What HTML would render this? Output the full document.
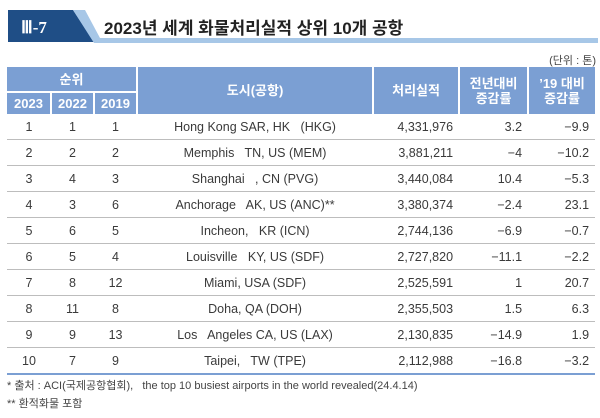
<!DOCTYPE html>
<html><head><meta charset="utf-8"><style>
body{margin:0;width:600px;height:418px;background:#fff;font-family:"Liberation Sans","Noto Sans CJK KR",sans-serif;position:relative;overflow:hidden;color:#3a3a3a}
.abs{position:absolute}
table{position:absolute;left:7px;top:67px;width:588px;border-collapse:collapse;table-layout:fixed;font-size:12.5px}
th{background:#7b9fd3;color:#fff;font-weight:bold;border-left:2px solid #fff;font-size:13px;padding:0;line-height:15px}
th:first-child{border-left:none}
td{height:25px;border-bottom:1px solid #bdbdbd;padding:0;text-align:center}
tr.last td{border-bottom:2px solid #7b9fd3}
td.r{text-align:right;padding-right:6px}
</style></head><body>
<svg class="abs" style="left:0;top:0" width="600" height="46">
<polygon points="8,10 73,10 94,42 8,42" fill="#1f4e86"/>
<polygon points="73,10 85,10 100,38 598,38 598,43 94,43" fill="#a7c7e7"/>
<text x="21" y="33" fill="#fff" font-family="Liberation Serif,serif" font-size="17" font-weight="bold">Ⅲ-7</text>
</svg>
<div class="abs" style="left:104px;top:14px;font-size:17px;font-weight:bold;color:#222">2023년 세계 화물처리실적 상위 10개 공항</div>
<div class="abs" style="right:4px;top:52px;font-size:11px;color:#444">(단위 : 톤)</div>
<table>
<colgroup><col style="width:44px"><col style="width:43px"><col style="width:43px"><col style="width:236px"><col style="width:86px"><col style="width:69px"><col style="width:67px"></colgroup>
<tr style="height:25px"><th colspan="3" style="border-bottom:2px solid #fff">순위</th><th rowspan="2">도시(공항)</th><th rowspan="2">처리실적</th><th rowspan="2">전년대비<br>증감률</th><th rowspan="2">’19 대비<br>증감률</th></tr>
<tr style="height:22px"><th>2023</th><th>2022</th><th>2019</th></tr>
<tr><td>1</td><td>1</td><td>1</td><td>Hong Kong SAR, HK &nbsp; (HKG)</td><td class="r">4,331,976</td><td class="r">3.2</td><td class="r">−9.9</td></tr>
<tr><td>2</td><td>2</td><td>2</td><td>Memphis &nbsp; TN, US (MEM)</td><td class="r">3,881,211</td><td class="r">−4</td><td class="r">−10.2</td></tr>
<tr><td>3</td><td>4</td><td>3</td><td>Shanghai &nbsp; , CN (PVG)</td><td class="r">3,440,084</td><td class="r">10.4</td><td class="r">−5.3</td></tr>
<tr><td>4</td><td>3</td><td>6</td><td>Anchorage &nbsp; AK, US (ANC)**</td><td class="r">3,380,374</td><td class="r">−2.4</td><td class="r">23.1</td></tr>
<tr><td>5</td><td>6</td><td>5</td><td>Incheon, &nbsp; KR (ICN)</td><td class="r">2,744,136</td><td class="r">−6.9</td><td class="r">−0.7</td></tr>
<tr><td>6</td><td>5</td><td>4</td><td>Louisville &nbsp; KY, US (SDF)</td><td class="r">2,727,820</td><td class="r">−11.1</td><td class="r">−2.2</td></tr>
<tr><td>7</td><td>8</td><td>12</td><td>Miami, USA (SDF)</td><td class="r">2,525,591</td><td class="r">1</td><td class="r">20.7</td></tr>
<tr><td>8</td><td>11</td><td>8</td><td>Doha, QA (DOH)</td><td class="r">2,355,503</td><td class="r">1.5</td><td class="r">6.3</td></tr>
<tr><td>9</td><td>9</td><td>13</td><td>Los &nbsp; Angeles CA, US (LAX)</td><td class="r">2,130,835</td><td class="r">−14.9</td><td class="r">1.9</td></tr>
<tr class="last"><td>10</td><td>7</td><td>9</td><td>Taipei, &nbsp; TW (TPE)</td><td class="r">2,112,988</td><td class="r">−16.8</td><td class="r">−3.2</td></tr>
</table>
<div class="abs" style="left:7px;top:377px;font-size:11px;color:#444;line-height:18px">* 출처 : ACI(국제공항협회), &nbsp; the top 10 busiest airports in the world revealed(24.4.14)<br>** 환적화물 포함</div>
</body></html>
